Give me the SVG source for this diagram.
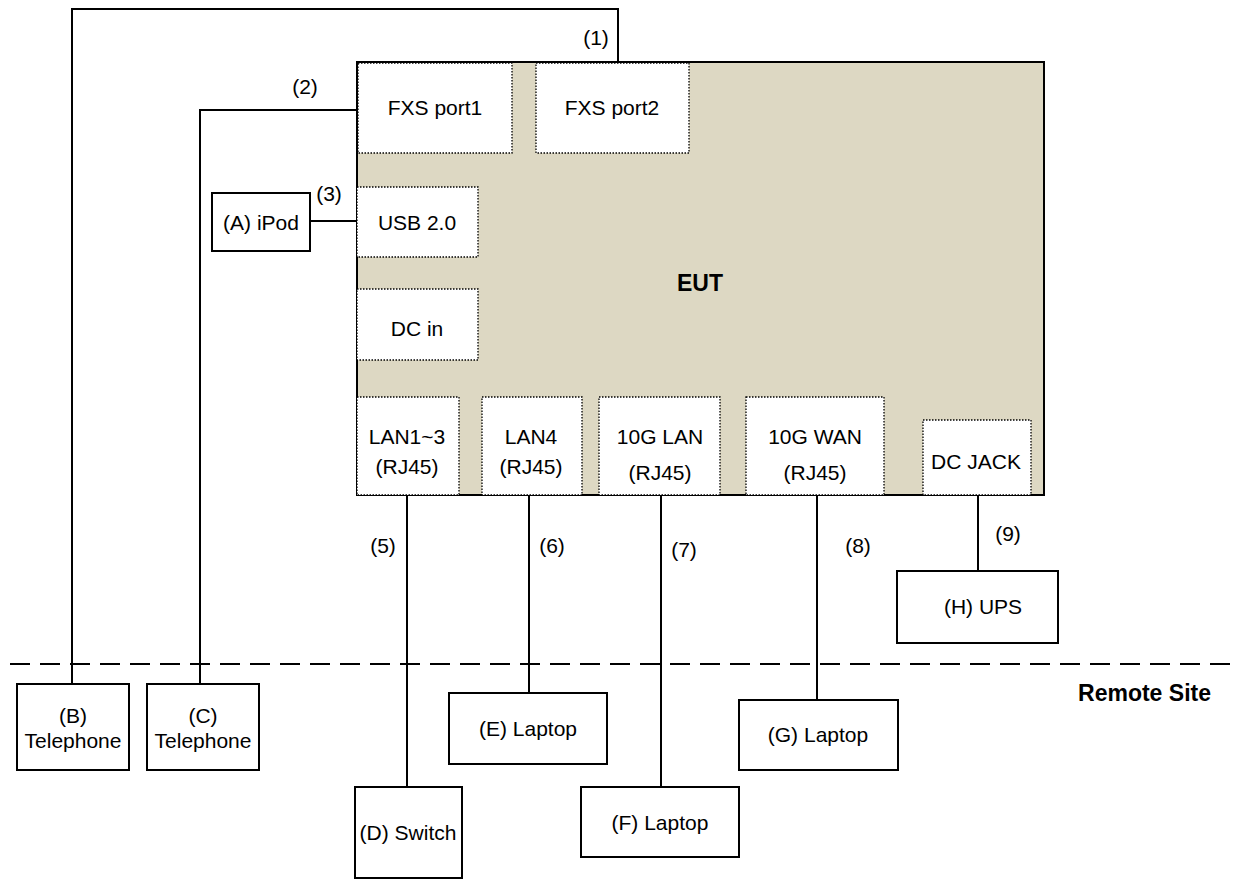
<svg xmlns="http://www.w3.org/2000/svg" width="1233" height="880" viewBox="0 0 1233 880">
<style>
text{font-family:"Liberation Sans",Arial,sans-serif;font-size:21px;fill:#000;text-anchor:middle}
.b{font-weight:bold}
.box{fill:#fff;stroke:#000;stroke-width:2}
.port{fill:#fff;stroke:#000;stroke-width:1.3;stroke-dasharray:1.5 1.5}
.eut{fill:#DDD8C3;stroke:#000;stroke-width:2}
.wire{fill:none;stroke:#000;stroke-width:2}
</style>
<rect width="1233" height="880" fill="#fff"/>
<g id="separator">
<line x1="10" y1="664" x2="1233" y2="664" stroke="#000" stroke-width="2" stroke-dasharray="20 10"/>
<text class="b" x="1211" y="701" style="text-anchor:end;font-size:23px">Remote Site</text>
</g>
<g id="EUT">
<rect class="eut" x="357" y="62" width="687" height="433"/>
<text class="b" x="700" y="291" style="font-size:23px">EUT</text>
</g>
<g id="fxs1"><rect class="port" x="358" y="63" width="154" height="90"/><text x="435" y="115">FXS port1</text></g>
<g id="fxs2"><rect class="port" x="536" y="63" width="153" height="90"/><text x="612" y="115">FXS port2</text></g>
<g id="usb"><rect class="port" x="357" y="187" width="121" height="70"/><text x="417" y="230">USB 2.0</text></g>
<g id="dcin"><rect class="port" x="357" y="289" width="121" height="71"/><text x="417" y="336">DC in</text></g>
<g id="lan13"><rect class="port" x="357" y="397" width="102" height="98"/><text x="407" y="444">LAN1~3</text><text x="407" y="474">(RJ45)</text></g>
<g id="lan4"><rect class="port" x="482" y="397" width="100" height="98"/><text x="531" y="444">LAN4</text><text x="531" y="474">(RJ45)</text></g>
<g id="lan10g"><rect class="port" x="599" y="397" width="121" height="98"/><text x="660" y="444">10G LAN</text><text x="660" y="480">(RJ45)</text></g>
<g id="wan10g"><rect class="port" x="746" y="397" width="138" height="98"/><text x="815" y="444">10G WAN</text><text x="815" y="480">(RJ45)</text></g>
<g id="dcjack"><rect class="port" x="923" y="420" width="108" height="75"/><text x="976" y="469">DC JACK</text></g>
<g id="connectors">
<polyline class="wire" points="618,62 618,9 72,9 72,684"/>
<polyline class="wire" points="357,110 200,110 200,684"/>
<line class="wire" x1="310" y1="221" x2="357" y2="221"/>
<line class="wire" x1="407" y1="495" x2="407" y2="787"/>
<line class="wire" x1="529" y1="495" x2="529" y2="693"/>
<line class="wire" x1="661" y1="495" x2="661" y2="787"/>
<line class="wire" x1="817" y1="495" x2="817" y2="700"/>
<line class="wire" x1="978" y1="495" x2="978" y2="571"/>
<text x="596" y="45">(1)</text>
<text x="305" y="94">(2)</text>
<text x="329" y="201">(3)</text>
<text x="383" y="553">(5)</text>
<text x="552" y="553">(6)</text>
<text x="684" y="557">(7)</text>
<text x="858" y="553">(8)</text>
<text x="1008" y="541">(9)</text>
</g>
<g id="A"><rect class="box" x="212" y="193" width="98" height="58"/><text x="261" y="230">(A) iPod</text></g>
<g id="B"><rect class="box" x="17" y="684" width="112" height="86"/><text x="73" y="723">(B)</text><text x="73" y="748">Telephone</text></g>
<g id="C"><rect class="box" x="147" y="684" width="112" height="86"/><text x="203" y="723">(C)</text><text x="203" y="748">Telephone</text></g>
<g id="D"><rect class="box" x="355" y="787" width="107" height="91"/><text x="408" y="840">(D) Switch</text></g>
<g id="E"><rect class="box" x="449" y="693" width="158" height="71"/><text x="528" y="736">(E) Laptop</text></g>
<g id="F"><rect class="box" x="581" y="787" width="158" height="70"/><text x="660" y="830">(F) Laptop</text></g>
<g id="G"><rect class="box" x="739" y="700" width="159" height="70"/><text x="818" y="742">(G) Laptop</text></g>
<g id="H"><rect class="box" x="897" y="571" width="161" height="72"/><text x="983" y="614">(H) UPS</text></g>
</svg>
